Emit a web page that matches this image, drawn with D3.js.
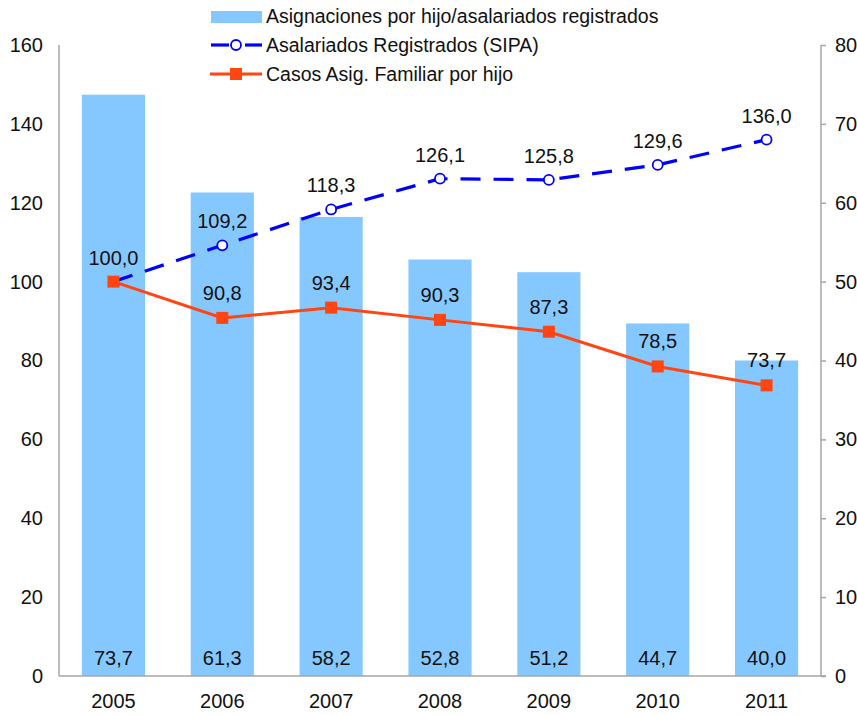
<!DOCTYPE html>
<html>
<head>
<meta charset="utf-8">
<script src="https://cdn.jsdelivr.net/npm/d3@7"></script>
<style>
  body { margin: 0; background: #fff; }
  text { font-family: "Liberation Sans", Arial, sans-serif; fill: #111; }
</style>
</head>
<body>
<script>
const years = ["2005", "2006", "2007", "2008", "2009", "2010", "2011"];
const asignaciones = [73.7, 61.3, 58.2, 52.8, 51.2, 44.7, 40.0];
const asalariados = [100.0, 109.2, 118.3, 126.1, 125.8, 129.6, 136.0];
const casos = [100.0, 90.8, 93.4, 90.3, 87.3, 78.5, 73.7];
const leftTicks = [0, 20, 40, 60, 80, 100, 120, 140, 160];
const rightTicks = [0, 10, 20, 30, 40, 50, 60, 70, 80];

const w = 857, h = 715;
const pLeft = 59, pRight = 821, pTop = 45, pBottom = 676;
const fs = 20;
const fmt = v => d3.format(".1f")(v).replace(".", ",");

const svg = d3.select("body").append("svg")
    .attr("width", w)
    .attr("height", h);

const x = d3.scaleBand().domain(years).range([pLeft, pRight]).paddingInner(0.42).paddingOuter(0.21);
const yL = d3.scaleLinear().domain([0, 160]).range([pBottom, pTop]);
const yR = d3.scaleLinear().domain([0, 80]).range([pBottom, pTop]);
const cx = d => x(d) + x.bandwidth() / 2;

// bars (right axis)
svg.selectAll("rect.bar")
    .data(years)
    .enter()
    .append("rect")
    .attr("class", "bar")
    .attr("x", d => x(d))
    .attr("y", (d, i) => yR(asignaciones[i]))
    .attr("width", x.bandwidth())
    .attr("height", (d, i) => pBottom - yR(asignaciones[i]))
    .attr("fill", "#85c8ff");

svg.selectAll("text.barlab")
    .data(years)
    .enter()
    .append("text")
    .attr("class", "barlab")
    .attr("x", d => cx(d))
    .attr("y", 665)
    .attr("text-anchor", "middle")
    .attr("font-size", fs)
    .text((d, i) => fmt(asignaciones[i]));

// axes
const axisL = svg.append("g")
    .attr("transform", "translate(" + pLeft + ",0)")
    .call(d3.axisLeft(yL).tickValues(leftTicks).tickSize(0).tickPadding(16));
const axisR = svg.append("g")
    .attr("transform", "translate(" + pRight + ",0)")
    .call(d3.axisRight(yR).tickValues(rightTicks).tickSize(5).tickPadding(9));
const axisB = svg.append("g")
    .attr("transform", "translate(0," + pBottom + ")")
    .call(d3.axisBottom(x).tickSize(0).tickPadding(18));

[axisL, axisR, axisB].forEach(g => {
    g.select(".domain").attr("stroke", "#a6a6a6").attr("stroke-width", 1.5);
    g.selectAll(".tick line").attr("stroke", "#a6a6a6").attr("stroke-width", 1.5);
    g.selectAll(".tick text").attr("font-size", fs).attr("fill", "#111")
        .style("font-family", "'Liberation Sans', Arial, sans-serif");
});
axisL.select(".domain").attr("d", "M0," + pTop + "V" + pBottom);
axisR.select(".domain").attr("d", "M0," + pTop + "V" + pBottom);
axisB.select(".domain").attr("d", "M" + pLeft + ",0H" + (pRight + 5));

// lines (left axis)
const line = vals => d3.line()
    .x((d, i) => cx(years[i]))
    .y(d => yL(d))(vals);

svg.append("path")
    .attr("d", line(asalariados))
    .attr("fill", "none")
    .attr("stroke", "#0000ff")
    .attr("stroke-width", 3.2)
    .attr("stroke-dasharray", "20,13");

svg.append("path")
    .attr("d", line(casos))
    .attr("fill", "none")
    .attr("stroke", "#ff4512")
    .attr("stroke-width", 3);

svg.selectAll("circle.pt")
    .data(asalariados.slice(1))
    .enter()
    .append("circle")
    .attr("class", "pt")
    .attr("cx", (d, i) => cx(years[i + 1]))
    .attr("cy", d => yL(d))
    .attr("r", 5)
    .attr("fill", "#fff")
    .attr("stroke", "#0000ff")
    .attr("stroke-width", 1.8);

svg.selectAll("rect.pt")
    .data(casos)
    .enter()
    .append("rect")
    .attr("class", "pt")
    .attr("x", (d, i) => cx(years[i]) - 6)
    .attr("y", d => yL(d) - 6)
    .attr("width", 12)
    .attr("height", 12)
    .attr("fill", "#ff4512");

svg.selectAll("text.blab")
    .data(asalariados)
    .enter()
    .append("text")
    .attr("class", "blab")
    .attr("x", (d, i) => cx(years[i]))
    .attr("y", d => yL(d) - 17)
    .attr("text-anchor", "middle")
    .attr("font-size", fs)
    .text(d => fmt(d));

svg.selectAll("text.olab")
    .data(casos.slice(1))
    .enter()
    .append("text")
    .attr("class", "olab")
    .attr("x", (d, i) => cx(years[i + 1]))
    .attr("y", d => yL(d) - 18)
    .attr("text-anchor", "middle")
    .attr("font-size", fs)
    .text(d => fmt(d));

// legend
const legend = svg.append("g");
legend.append("rect")
    .attr("x", 211).attr("y", 11).attr("width", 51).attr("height", 12)
    .attr("fill", "#85c8ff");
legend.append("line")
    .attr("x1", 211).attr("x2", 229).attr("y1", 45).attr("y2", 45)
    .attr("stroke", "#0000ff").attr("stroke-width", 3.2);
legend.append("line")
    .attr("x1", 245).attr("x2", 262).attr("y1", 45).attr("y2", 45)
    .attr("stroke", "#0000ff").attr("stroke-width", 3.2);
legend.append("circle")
    .attr("cx", 236).attr("cy", 45).attr("r", 5)
    .attr("fill", "#fff").attr("stroke", "#0000ff").attr("stroke-width", 1.8);
legend.append("line")
    .attr("x1", 210).attr("x2", 262).attr("y1", 74).attr("y2", 74)
    .attr("stroke", "#ff4512").attr("stroke-width", 3);
legend.append("rect")
    .attr("x", 230).attr("y", 68).attr("width", 12).attr("height", 12)
    .attr("fill", "#ff4512");

const legendText = ["Asignaciones por hijo/asalariados registrados",
    "Asalariados Registrados (SIPA)", "Casos Asig. Familiar por hijo"];
legend.selectAll("text")
    .data(legendText)
    .enter()
    .append("text")
    .attr("x", 266)
    .attr("y", (d, i) => 23 + i * 29)
    .attr("font-size", 19.5)
    .text(d => d);
</script>
</body>
</html>
